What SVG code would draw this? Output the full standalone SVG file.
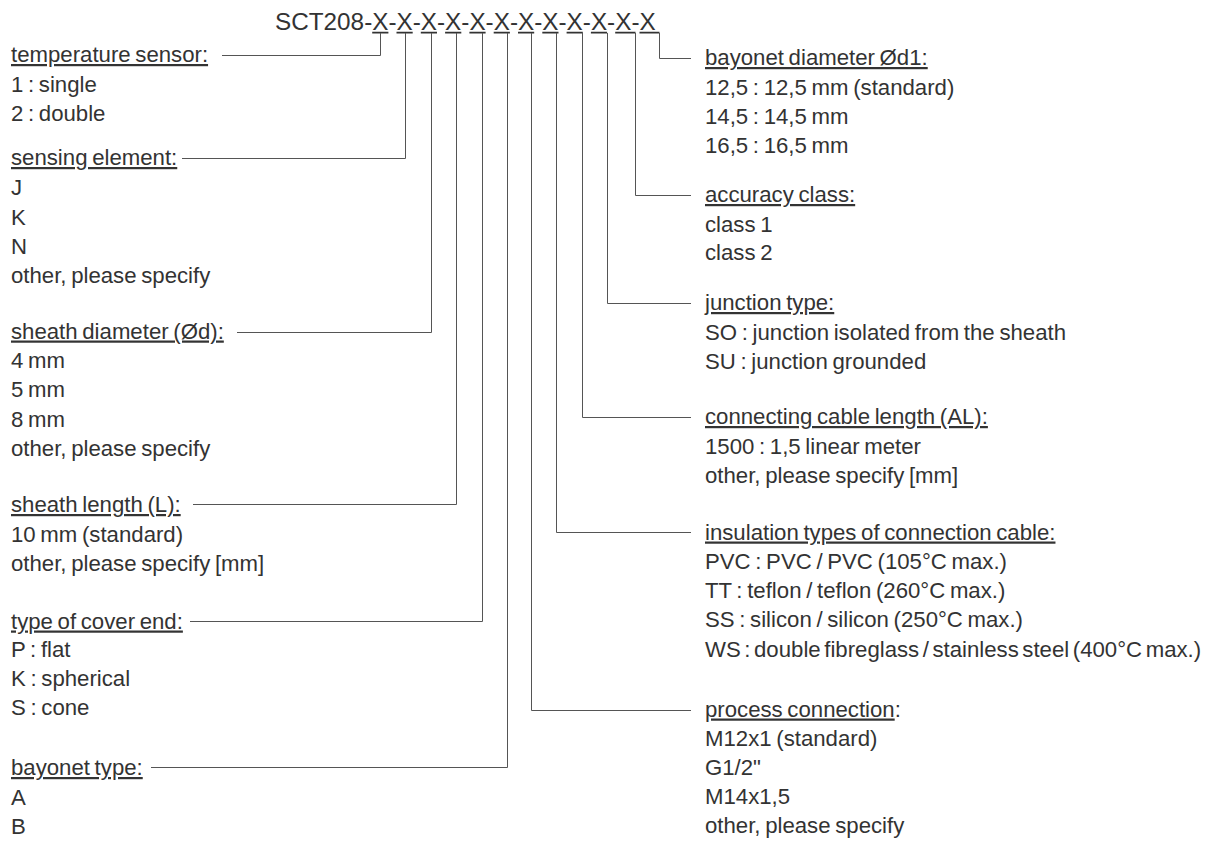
<svg xmlns="http://www.w3.org/2000/svg" width="1208" height="841" viewBox="0 0 1208 841">
<style>
  text { font-family: "Liberation Sans", Arial, sans-serif; font-size: 22.2px; fill: #333; word-spacing: -1.5px; }
  .title { font-size: 24.3px; fill: #333; word-spacing: 0; }
  .hd { text-decoration: underline; }
  .tight { word-spacing: -2.6px; }
  .ld { fill: none; stroke: #555; stroke-width: 1; }
  .ul { fill: none; stroke: #333; stroke-width: 1.6; }
</style>
<rect width="1208" height="841" fill="#fff"/>

<g id="title">
  <text class="title" x="275" y="29.5">SCT208-X-X-X-X-X-X-X-X-X-X-X-X</text>
</g>

<g id="connectors">
  <path class="ul" d="M372.2,32.6h16.2 M396.5,32.6h16.2 M420.8,32.6h16.2 M445.1,32.6h16.2 M469.4,32.6h16.2 M493.7,32.6h16.2 M518,32.6h16.2 M542.3,32.6h16.2 M566.6,32.6h16.2 M590.9,32.6h16.2 M615.2,32.6h20.3 M639.5,32.6h20"/>
  <path class="ld" d="M380.5,33V55.5H222"/>
  <path class="ld" d="M405.5,33V158.5H182"/>
  <path class="ld" d="M431.5,33V332.5H237"/>
  <path class="ld" d="M456.5,33V504.5H193"/>
  <path class="ld" d="M482.5,33V621.5H190"/>
  <path class="ld" d="M507.5,33V767.5H151"/>
  <path class="ld" d="M531.5,33V710.5H691"/>
  <path class="ld" d="M556.5,33V532.5H691"/>
  <path class="ld" d="M582.5,33V417.5H691"/>
  <path class="ld" d="M607.5,33V303.5H691"/>
  <path class="ld" d="M635.5,33V195.5H691"/>
  <path class="ld" d="M659.5,33V58.5H691"/>
</g>

<g id="temperature-sensor">
  <text class="hd" x="11" y="62">temperature sensor:</text>
  <text x="11" y="92">1 : single</text>
  <text x="11" y="121">2 : double</text>
</g>

<g id="sensing-element">
  <text class="hd" x="11" y="165">sensing element:</text>
  <text x="11" y="195">J</text>
  <text x="11" y="225">K</text>
  <text x="11" y="254">N</text>
  <text x="11" y="283">other, please specify</text>
</g>

<g id="sheath-diameter">
  <text class="hd" x="11" y="338.5">sheath diameter (Ød):</text>
  <text x="11" y="368">4 mm</text>
  <text x="11" y="397">5 mm</text>
  <text x="11" y="427">8 mm</text>
  <text x="11" y="456">other, please specify</text>
</g>

<g id="sheath-length">
  <text class="hd" x="11" y="512">sheath length (L):</text>
  <text x="11" y="542">10 mm (standard)</text>
  <text x="11" y="570.5">other, please specify [mm]</text>
</g>

<g id="cover-end">
  <text class="hd" x="11" y="628.5">type of cover end:</text>
  <text x="11" y="657">P : flat</text>
  <text x="11" y="686">K : spherical</text>
  <text x="11" y="715">S : cone</text>
</g>

<g id="bayonet-type">
  <text class="hd" x="11" y="775">bayonet type:</text>
  <text x="11" y="805">A</text>
  <text x="11" y="833.5">B</text>
</g>

<g id="bayonet-diameter">
  <text class="hd" x="705" y="65">bayonet diameter Ød1:</text>
  <text x="705" y="94.5">12,5 : 12,5 mm (standard)</text>
  <text x="705" y="123.5">14,5 : 14,5 mm</text>
  <text x="705" y="152.5">16,5 : 16,5 mm</text>
</g>

<g id="accuracy-class">
  <text class="hd" x="705" y="202">accuracy class:</text>
  <text x="705" y="231.5">class 1</text>
  <text x="705" y="260">class 2</text>
</g>

<g id="junction-type">
  <text class="hd" x="705" y="310">junction type:</text>
  <text x="705" y="339.5">SO : junction isolated from the sheath</text>
  <text x="705" y="368.5">SU : junction grounded</text>
</g>

<g id="cable-length">
  <text class="hd" x="705" y="424">connecting cable length (AL):</text>
  <text x="705" y="454">1500 : 1,5 linear meter</text>
  <text x="705" y="483">other, please specify [mm]</text>
</g>

<g id="insulation">
  <text class="hd" x="705" y="539.5">insulation types of connection cable:</text>
  <text x="705" y="569">PVC : PVC / PVC (105°C max.)</text>
  <text x="705" y="598">TT : teflon / teflon (260°C max.)</text>
  <text x="705" y="627">SS : silicon / silicon (250°C max.)</text>
  <text class="tight" x="705" y="656.5">WS : double fibreglass / stainless steel (400°C max.)</text>
</g>

<g id="process-connection">
  <text x="705" y="716.5"><tspan class="hd">process connection</tspan>:</text>
  <text x="705" y="746">M12x1 (standard)</text>
  <text x="705" y="775">G1/2"</text>
  <text x="705" y="804">M14x1,5</text>
  <text x="705" y="833">other, please specify</text>
</g>
</svg>
